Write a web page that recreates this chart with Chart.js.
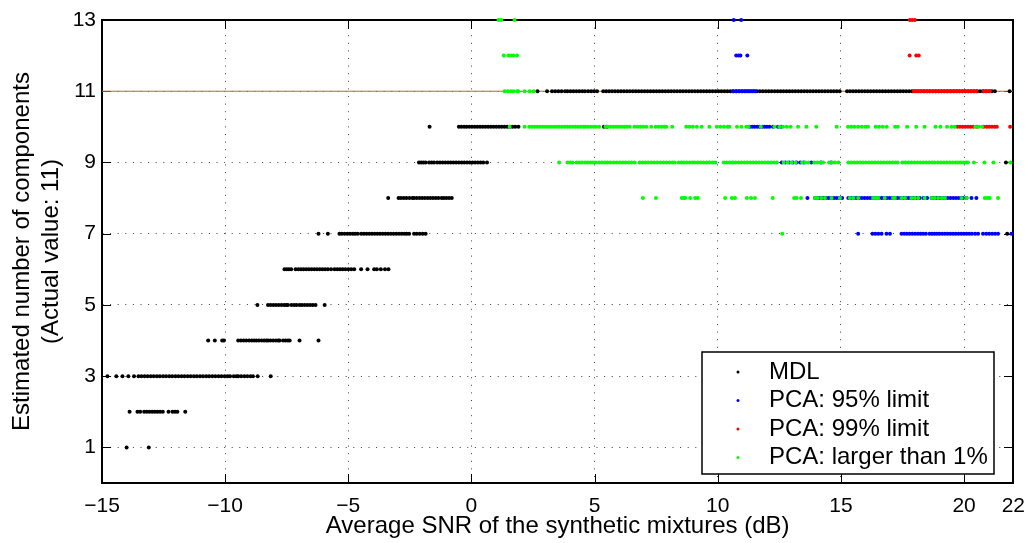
<!DOCTYPE html>
<html>
<head>
<meta charset="utf-8">
<title>Estimated number of components vs SNR</title>
<script src="https://cdn.jsdelivr.net/npm/chart.js@4.4.0/dist/chart.umd.min.js"></script>
<style>
  html, body { margin: 0; padding: 0; background: #fff; }
  #wrap { width: 1036px; height: 543px; }
</style>
</head>
<body>
<div id="wrap"><canvas id="snrChart" width="1036" height="543"></canvas></div>
<script>
// axis ticks
const xTicks = [-15, -10, -5, 0, 5, 10, 15, 20, 22];
const yTicks = [1, 3, 5, 7, 9, 11, 13];
const actualValue = 11;

// MDL: SNR values (dB) that gave each estimated count
const mdl1 = [-14.0, -13.1];
const mdl2 = [-13.88, -13.56, -13.45, -13.29, -13.18, -13.07, -12.96, -12.85, -12.75, -12.64, -12.53, -12.3, -12.14, -12.03, -11.94, -11.62];
const mdl3 = [-14.78, -14.42, -14.17, -13.93, -13.7, -13.52, -13.4, -13.27, -13.15, -13.02, -12.9, -12.77, -12.65, -12.52, -12.4, -12.27, -12.15, -12.02, -11.9, -11.77, -11.65, -11.52, -11.4, -11.27, -11.15, -11.02, -10.9, -10.77, -10.65, -10.52, -10.4, -10.27, -10.15, -10.02, -9.9, -9.8, -9.65, -9.54, -9.47, -9.35, -9.22, -9.1, -8.97, -8.87, -8.68, -8.15];
const mdl4 = [-10.69, -10.42, -10.12, -10.05, -9.47, -9.36, -9.25, -9.14, -9.03, -8.92, -8.82, -8.73, -8.63, -8.52, -8.42, -8.33, -8.26, -8.16, -8.05, -7.94, -7.85, -7.79, -7.65, -7.55, -7.45, -7.38, -6.98, -6.21];
const mdl5 = [-8.69, -8.26, -8.15, -8.04, -7.93, -7.82, -7.71, -7.6, -7.52, -7.45, -7.31, -7.2, -7.1, -6.98, -6.88, -6.77, -6.66, -6.55, -6.44, -6.33, -5.96];
const mdl6 = [-7.59, -7.5, -7.41, -7.32, -7.14, -7.03, -6.92, -6.82, -6.71, -6.6, -6.49, -6.38, -6.27, -6.16, -6.05, -5.94, -5.83, -5.7, -5.56, -5.45, -5.34, -5.23, -5.12, -5.0, -4.88, -4.76, -4.48, -4.22, -3.95, -3.84, -3.68, -3.51, -3.37];
const mdl7 = [-6.21, -5.83, -5.36, -5.26, -5.15, -5.04, -4.93, -4.82, -4.72, -4.62, -4.48, -4.37, -4.26, -4.15, -4.04, -3.93, -3.82, -3.71, -3.6, -3.49, -3.38, -3.27, -3.16, -3.05, -2.94, -2.83, -2.72, -2.63, -2.53, -2.33, -2.22, -2.1, -1.98, -1.86, 21.75];
const mdl8 = [-3.38, -2.96, -2.86, -2.75, -2.64, -2.52, -2.4, -2.33, -2.22, -2.11, -2.0, -1.89, -1.78, -1.67, -1.56, -1.45, -1.34, -1.21, -1.12, -1.02, -0.91, -0.8];
const mdl9 = [-2.13, -2.04, -1.95, -1.86, -1.72, -1.62, -1.52, -1.39, -1.28, -1.17, -1.06, -0.95, -0.84, -0.73, -0.62, -0.51, -0.4, -0.29, -0.18, -0.07, 0.04, 0.15, 0.26, 0.37, 0.48, 0.63, 21.7];
const mdl10 = [-1.7, -0.51, -0.41, -0.3, -0.2, -0.09, 0.02, 0.13, 0.24, 0.35, 0.46, 0.57, 0.68, 0.79, 0.9, 1.01, 1.12, 1.23, 1.34, 1.45, 1.56, 1.67, 1.78, 1.91, 5.38, 5.5];
const mdl11 = [2.68, 3.07, 3.27, 3.4, 3.53, 3.66, 3.8, 3.9, 4.02, 4.14, 4.26, 4.38, 4.5, 4.61, 4.74, 4.86, 4.98, 5.1, 5.35, 5.47, 5.59, 5.71, 5.83, 5.95, 6.07, 6.19, 6.31, 6.43, 6.55, 6.67, 6.79, 6.91, 7.03, 7.15, 7.27, 7.39, 7.51, 7.63, 7.75, 7.87, 7.99, 8.11, 8.23, 8.35, 8.47, 8.59, 8.71, 8.83, 8.95, 9.07, 9.19, 9.31, 9.43, 9.55, 9.67, 9.79, 9.91, 10.03, 10.15, 10.27, 10.39, 10.51, 10.63, 10.75, 10.87, 10.99, 11.11, 11.23, 11.35, 11.47, 11.59, 11.71, 11.83, 11.95, 12.07, 12.19, 12.31, 12.43, 12.55, 12.67, 12.79, 12.91, 13.03, 13.15, 13.27, 13.39, 13.51, 13.63, 13.75, 13.87, 13.99, 14.11, 14.23, 14.35, 14.47, 14.59, 14.71, 14.83, 14.95, 15.25, 15.37, 15.49, 15.61, 15.73, 15.85, 15.97, 16.09, 16.21, 16.33, 16.45, 16.57, 16.69, 16.81, 16.93, 17.05, 17.17, 17.29, 17.41, 17.53, 17.65, 17.77, 17.89, 18.01, 18.13, 18.25, 18.37, 18.49, 18.61, 18.73, 18.85, 18.97, 19.09, 19.21, 19.33, 19.45, 19.57, 19.69, 19.81, 19.93, 20.05, 20.17, 20.29, 20.41, 20.53, 20.65, 20.77, 20.89, 21.01, 21.13, 21.25, 21.85];

// PCA, 95% variance limit
const pca95at7 = [15.7, 16.28, 16.4, 16.52, 16.65, 16.85, 16.99, 17.46, 17.57, 17.68, 17.79, 17.9, 18.01, 18.12, 18.23, 18.34, 18.45, 18.6, 18.7, 18.8, 18.9, 19.0, 19.11, 19.22, 19.33, 19.44, 19.55, 19.66, 19.77, 19.88, 19.99, 20.1, 20.21, 20.32, 20.45, 20.57, 20.77, 20.9, 21.02, 21.14, 21.26, 21.38, 21.92];
const pca95at8 = [13.64, 13.95, 14.06, 14.17, 14.28, 14.39, 14.5, 14.61, 14.72, 14.83, 14.94, 15.05, 15.3, 15.41, 15.52, 15.63, 15.74, 15.85, 15.96, 16.07, 16.18, 16.29, 16.4, 16.52, 16.65, 16.76, 16.87, 16.98, 17.09, 17.19, 17.3, 17.42, 17.53, 17.64, 17.75, 17.86, 17.97, 18.08, 18.2, 18.35, 18.5, 18.68, 18.79, 18.9, 19.01, 19.12, 19.23, 19.34, 19.45, 19.56, 19.67, 19.78, 19.89, 19.96, 20.1, 20.3, 20.5];
const pca95at9 = [12.6, 12.75, 12.9, 13.05, 13.2, 13.35, 13.5, 13.8, 14.2, 14.6];
const pca95at10 = [11.3, 11.4, 11.5, 11.6, 11.7, 11.8, 11.9, 12.0, 12.1, 12.24, 12.44, 12.57];
const pca95at11 = [10.62, 10.75, 10.86, 10.97, 11.08, 11.19, 11.3, 11.41, 11.52];
const pca95at12 = [10.75, 10.85, 10.92, 11.2];
const pca95at13 = [10.65, 10.95];

// PCA, 99% variance limit
const pca99at10 = [19.72, 19.83, 19.94, 20.05, 20.16, 20.27, 20.38, 20.53, 20.8, 20.91, 21.02, 21.13, 21.24, 21.33, 21.87];
const pca99at11 = [17.96, 18.07, 18.18, 18.29, 18.4, 18.51, 18.62, 18.73, 18.84, 18.95, 19.06, 19.17, 19.28, 19.39, 19.5, 19.61, 19.72, 19.83, 19.94, 20.05, 20.16, 20.27, 20.38, 20.5, 20.8, 20.92, 21.05];
const pca99at12 = [17.79, 18.06, 18.16];
const pca99at13 = [17.8, 17.9, 18.0];

// PCA, components larger than 1%
const pca1at7 = [12.62];
const pca1at8 = [6.96, 7.49, 8.54, 8.62, 8.68, 8.88, 9.08, 9.19, 10.3, 10.57, 10.7, 11.18, 11.35, 11.51, 12.23, 13.1, 13.2, 13.38, 13.95, 14.05, 14.2, 14.35, 14.62, 14.96, 15.36, 15.5, 15.7, 16.31, 16.42, 16.51, 16.78, 17.12, 17.19, 17.46, 17.6, 17.86, 18.0, 18.14, 18.4, 18.68, 18.8, 18.95, 19.1, 19.22, 19.9, 20.1, 20.84, 20.95, 21.04, 21.38];
const pca1at9 = [3.56, 3.9, 4.0, 4.1, 4.27, 4.37, 4.47, 4.61, 4.72, 4.83, 4.94, 5.04, 5.18, 5.3, 5.42, 5.52, 5.65, 5.78, 5.9, 6.02, 6.14, 6.26, 6.38, 6.5, 6.63, 6.83, 6.95, 7.06, 7.17, 7.3, 7.42, 7.54, 7.67, 7.8, 7.92, 8.04, 8.16, 8.25, 8.41, 8.52, 8.62, 8.74, 8.86, 8.97, 9.06, 9.19, 9.31, 9.43, 9.55, 9.67, 9.79, 9.9, 10.24, 10.36, 10.48, 10.6, 10.72, 10.84, 10.96, 11.08, 11.2, 11.32, 11.44, 11.56, 11.68, 11.8, 11.92, 12.04, 12.16, 12.28, 12.4, 12.68, 12.84, 13.0, 13.16, 13.42, 13.56, 13.68, 13.92, 14.04, 14.16, 14.28, 14.52, 14.64, 14.76, 14.9, 15.3, 15.42, 15.54, 15.66, 15.78, 15.9, 16.02, 16.14, 16.26, 16.38, 16.5, 16.62, 16.74, 16.86, 16.98, 17.1, 17.2, 17.3, 17.5, 17.62, 17.74, 17.86, 17.98, 18.1, 18.22, 18.34, 18.46, 18.58, 18.7, 18.8, 18.94, 19.06, 19.18, 19.3, 19.42, 19.54, 19.66, 19.75, 19.85, 19.97, 20.08, 20.15, 20.4, 20.83, 21.2, 21.88];
const pca1at10 = [1.55, 2.16, 2.35, 2.46, 2.57, 2.68, 2.79, 2.9, 3.01, 3.12, 3.23, 3.34, 3.45, 3.56, 3.67, 3.78, 3.89, 4.0, 4.11, 4.22, 4.33, 4.44, 4.55, 4.61, 4.72, 4.84, 4.96, 5.05, 5.18, 5.44, 5.55, 5.66, 5.77, 5.88, 5.99, 6.1, 6.21, 6.32, 6.43, 6.62, 6.74, 6.86, 6.98, 7.1, 7.3, 7.48, 7.6, 7.72, 7.84, 7.91, 8.15, 8.72, 8.85, 8.99, 9.15, 9.35, 9.66, 9.96, 10.1, 10.25, 10.4, 10.48, 10.78, 10.96, 11.16, 11.25, 11.75, 12.3, 12.5, 12.65, 12.8, 12.96, 13.26, 13.6, 14.0, 14.83, 15.29, 15.42, 15.55, 15.7, 15.85, 16.0, 16.1, 16.41, 16.55, 16.7, 16.86, 17.2, 17.31, 17.69, 18.06, 18.4, 18.84, 19.04, 19.31, 19.49, 19.62, 20.46, 20.6, 20.73];
const pca1at11 = [1.35, 1.48, 1.6, 1.71, 1.85, 1.9, 2.16, 2.36, 2.52];
const pca1at12 = [1.31, 1.5, 1.6, 1.7, 1.85];
const pca1at13 = [1.1, 1.21, 1.75];

function toPoints(rows) {
  const pts = [];
  rows.forEach(([level, xs]) => xs.forEach(x => pts.push({ x: x, y: level })));
  return pts;
}

const fontFamily = '"Liberation Sans", Arial, Helvetica, sans-serif';
const dotRadius = 2;

function dotSet(label, color, order, rows) {
  return {
    label: label,
    data: toPoints(rows),
    backgroundColor: color,
    borderWidth: 0,
    pointRadius: dotRadius,
    pointHoverRadius: dotRadius,
    clip: 4,
    order: order
  };
}

const datasets = [
  dotSet('MDL', '#000000', 4, [[1, mdl1], [2, mdl2], [3, mdl3], [4, mdl4], [5, mdl5], [6, mdl6], [7, mdl7], [8, mdl8], [9, mdl9], [10, mdl10], [11, mdl11]]),
  dotSet('PCA: 95% limit', '#0000ff', 3, [[7, pca95at7], [8, pca95at8], [9, pca95at9], [10, pca95at10], [11, pca95at11], [12, pca95at12], [13, pca95at13]]),
  dotSet('PCA: 99% limit', '#ff0000', 2, [[10, pca99at10], [11, pca99at11], [12, pca99at12], [13, pca99at13]]),
  dotSet('PCA: larger than 1%', '#00ff00', 1, [[7, pca1at7], [8, pca1at8], [9, pca1at9], [10, pca1at10], [11, pca1at11], [12, pca1at12], [13, pca1at13]]),
  {
    // reference line at the true number of components
    type: 'line',
    label: 'actual',
    data: [{ x: xTicks[0], y: actualValue }, { x: xTicks[xTicks.length - 1], y: actualValue }],
    borderColor: '#bf6a18',
    borderWidth: 1,
    pointRadius: 0,
    fill: false,
    order: 5,
    hideInLegend: true
  }
];

function fmtTick(v) {
  return v < 0 ? '\u2212' + Math.abs(v) : String(v);
}

// axes box with inward tick marks (under the data), boxed legend on top
const matlabAxes = {
  id: 'matlabAxes',
  beforeDatasetsDraw(chart) {
    const ctx = chart.ctx;
    const sx = chart.scales.x, sy = chart.scales.y;
    const tickLen = 9;
    const L = Math.round(sx.getPixelForValue(sx.min));
    const R = Math.round(sx.getPixelForValue(sx.max));
    const T = Math.round(sy.getPixelForValue(sy.max));
    const B = Math.round(sy.getPixelForValue(sy.min));
    ctx.save();
    ctx.setLineDash([]);
    ctx.globalAlpha = 1;
    ctx.strokeStyle = '#000000';
    ctx.lineWidth = 1;
    ctx.beginPath();
    xTicks.forEach(v => {
      const px = Math.round(sx.getPixelForValue(v)) + 0.5;
      ctx.moveTo(px, B); ctx.lineTo(px, B - tickLen);
      ctx.moveTo(px, T); ctx.lineTo(px, T + tickLen);
    });
    yTicks.forEach(v => {
      const py = Math.round(sy.getPixelForValue(v)) + 0.5;
      ctx.moveTo(L, py); ctx.lineTo(L + tickLen, py);
      ctx.moveTo(R, py); ctx.lineTo(R - tickLen, py);
    });
    ctx.stroke();
    ctx.lineWidth = 2;
    ctx.beginPath();
    ctx.rect(L, T, R - L, B - T);
    ctx.stroke();
    ctx.restore();
  },
  afterDraw(chart) {
    const { ctx, chartArea: a } = chart;
    const items = chart.data.datasets.filter(d => !d.hideInLegend);
    const boxW = 292, boxH = 122, rowH = 28.5;
    const bx = Math.round(a.right - 19 - boxW);
    const by = Math.round(a.bottom - 9 - boxH);
    ctx.save();
    ctx.setLineDash([]);
    ctx.fillStyle = '#fff';
    ctx.fillRect(bx, by, boxW, boxH);
    ctx.strokeStyle = '#000000';
    ctx.lineWidth = 1.5;
    ctx.strokeRect(bx, by, boxW, boxH);
    ctx.font = '24px ' + fontFamily;
    ctx.textBaseline = 'middle';
    ctx.textAlign = 'left';
    items.forEach((d, i) => {
      const cy = by + 20 + i * rowH;
      ctx.fillStyle = d.backgroundColor;
      ctx.beginPath();
      ctx.arc(bx + 36, cy, 1.5, 0, Math.PI * 2);
      ctx.fill();
      ctx.fillStyle = '#000';
      ctx.fillText(d.label, bx + 67, cy);
    });
    ctx.restore();
  }
};

new Chart(document.getElementById('snrChart'), {
  type: 'scatter',
  data: { datasets: datasets },
  options: {
    responsive: false,
    animation: false,
    events: [],
    layout: { padding: { top: 20, right: 21, left: 0, bottom: 0 } },
    plugins: {
      legend: { display: false },
      tooltip: { enabled: false }
    },
    scales: {
      x: {
        type: 'linear',
        min: -15,
        max: 22,
        afterBuildTicks: axis => { axis.ticks = xTicks.map(v => ({ value: v })); },
        afterFit: axis => { axis.height = 60; },
        ticks: {
          autoSkip: false,
          maxRotation: 0,
          padding: 11,
          color: '#000',
          font: { family: fontFamily, size: 21 },
          callback: fmtTick
        },
        grid: {
          drawTicks: false,
          color: c => (c.tick && (c.tick.value === -15 || c.tick.value === 22)) ? 'rgba(0,0,0,0)' : 'rgba(0,0,0,0.75)'
        },
        border: { display: true, color: '#000', width: 1.5, dash: [1, 6.6] },
        title: {
          display: true,
          text: 'Average SNR of the synthetic mixtures (dB)',
          color: '#000',
          font: { family: fontFamily, size: 24, lineHeight: 1.2 },
          padding: { top: 0, bottom: 2 }
        }
      },
      y: {
        type: 'linear',
        min: 0,
        max: 13,
        afterBuildTicks: axis => { axis.ticks = yTicks.map(v => ({ value: v })); },
        afterFit: axis => { axis.width = 102; },
        ticks: {
          padding: 6,
          color: '#000',
          font: { family: fontFamily, size: 21 },
          callback: fmtTick
        },
        grid: {
          drawTicks: false,
          color: c => (c.tick && c.tick.value === 13) ? 'rgba(0,0,0,0)' : 'rgba(0,0,0,0.75)'
        },
        border: { display: true, color: '#000', width: 1.5, dash: [1, 6.6] },
        title: {
          display: true,
          text: ['Estimated number of components', '(Actual value: ' + actualValue + ')'],
          color: '#000',
          font: { family: fontFamily, size: 24, lineHeight: 1.21 },
          padding: { top: 8, bottom: 0 }
        }
      }
    }
  },
  plugins: [matlabAxes]
});
</script>
</body>
</html>
